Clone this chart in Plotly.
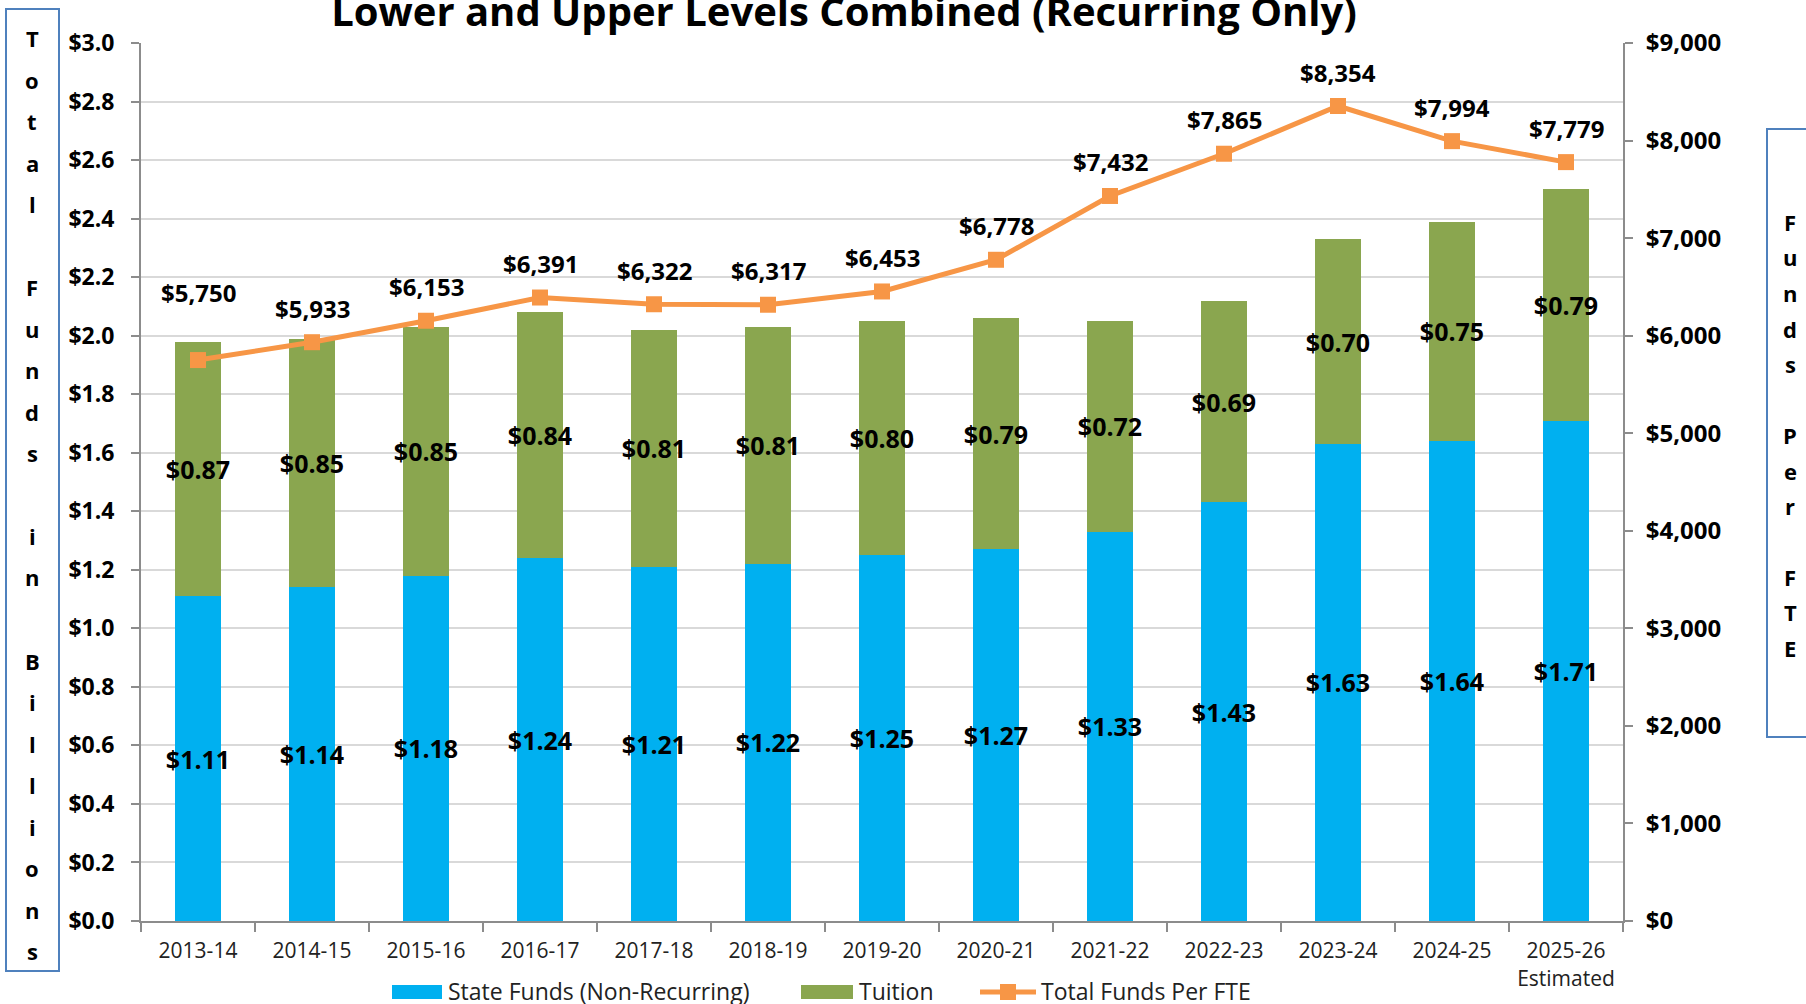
import plotly.graph_objects as go

# ---------------- data ----------------
years = ["2013-14", "2014-15", "2015-16", "2016-17", "2017-18", "2018-19", "2019-20",
         "2020-21", "2021-22", "2022-23", "2023-24", "2024-25", "2025-26<br>Estimated"]
state_funds = [1.11, 1.14, 1.18, 1.24, 1.21, 1.22, 1.25, 1.27, 1.33, 1.43, 1.63, 1.64, 1.71]
tuition = [0.87, 0.85, 0.85, 0.84, 0.81, 0.81, 0.80, 0.79, 0.72, 0.69, 0.70, 0.75, 0.79]
funds_per_fte = [5750, 5933, 6153, 6391, 6322, 6317, 6453, 6778, 7432, 7865, 8354, 7994, 7779]

series_names = ["State Funds (Non-Recurring)", "Tuition", "Total Funds Per FTE"]
title_text = "Lower and Upper Levels Combined (Recurring Only)"
left_title = "Total Funds in Billions"
right_title = "Funds Per FTE"

# ---------------- layout geometry (pixels) ----------------
W, H = 1806, 1004
L, R, T, B = 141, 1623, 43, 921

def px_x(p):
    return (p - L) / (R - L)

def px_y(p):
    return (B - p) / (B - T)

FONT = "Open Sans"
BLUE = "#00B0F0"
GREEN = "#8AA64F"
ORANGE = "#F79646"
AXIS = "#8C8C8C"
GRID = "#D9D9D9"
BOX = "#4F81BD"

fig = go.Figure()

fig.add_trace(go.Bar(
    x=years, y=state_funds, name=series_names[0], showlegend=False,
    marker=dict(color=BLUE, line=dict(width=0)),
    texttemplate="$%{y:.2f}", textposition="inside", insidetextanchor="middle",
    textangle=0, constraintext="none",
    textfont=dict(family=FONT, size=25, color="black", weight="bold"),
))
fig.add_trace(go.Bar(
    x=years, y=tuition, name=series_names[1], showlegend=False,
    marker=dict(color=GREEN, line=dict(width=0)),
    texttemplate="$%{y:.2f}", textposition="inside", insidetextanchor="middle",
    textangle=0, constraintext="none",
    textfont=dict(family=FONT, size=25, color="black", weight="bold"),
))
fig.add_trace(go.Scatter(
    x=years, y=funds_per_fte, name=series_names[2], yaxis="y2", showlegend=False,
    mode="lines+markers",
    line=dict(color=ORANGE, width=5),
    marker=dict(symbol="square", size=16, color=ORANGE),
))

annotations = []
shapes = []

# line value labels
for i, (cat, v) in enumerate(zip(years, funds_per_fte)):
    annotations.append(dict(
        x=cat, y=v, xref="x", yref="y2", text=f"${v:,.0f}", showarrow=False,
        yshift=68 if i == 0 else 34,
        font=dict(family=FONT, size=24, color="black", weight="bold"),
    ))

# vertical stacked axis titles
def stacked(text, x_px, y0_px, step):
    lines = []
    for wi, word in enumerate(text.split(" ")):
        if wi > 0:
            lines.append("")
        lines.extend(list(word))
    for i, ch in enumerate(lines):
        if not ch:
            continue
        annotations.append(dict(
            x=px_x(x_px), y=px_y(y0_px + i * step), xref="paper", yref="paper",
            text=ch, showarrow=False, xanchor="center", yanchor="middle",
            font=dict(family=FONT, size=22, color="black", weight="bold"),
        ))

stacked(left_title, 32, 38, 41.5)
stacked(right_title, 1790, 222, 35.5)

shapes += [
    dict(type="rect", xref="paper", yref="paper",
         x0=px_x(6), x1=px_x(59), y0=px_y(9), y1=px_y(971),
         line=dict(color=BOX, width=2), fillcolor="rgba(0,0,0,0)"),
    dict(type="rect", xref="paper", yref="paper",
         x0=px_x(1767), x1=px_x(1840), y0=px_y(129), y1=px_y(737),
         line=dict(color=BOX, width=2), fillcolor="rgba(0,0,0,0)"),
]

# custom legend (Excel-style wide swatches)
LEG_Y = 992
leg_font = dict(family=FONT, size=23, color="#222")
shapes.append(dict(type="rect", xref="paper", yref="paper",
                   x0=px_x(392), x1=px_x(442), y0=px_y(LEG_Y + 7), y1=px_y(LEG_Y - 7),
                   fillcolor=BLUE, line=dict(width=0)))
annotations.append(dict(x=px_x(446), y=px_y(LEG_Y - 1), xref="paper", yref="paper",
                        text=series_names[0], showarrow=False, xanchor="left",
                        yanchor="middle", font=leg_font))
shapes.append(dict(type="rect", xref="paper", yref="paper",
                   x0=px_x(801), x1=px_x(853), y0=px_y(LEG_Y + 7), y1=px_y(LEG_Y - 7),
                   fillcolor=GREEN, line=dict(width=0)))
annotations.append(dict(x=px_x(857), y=px_y(LEG_Y - 1), xref="paper", yref="paper",
                        text=series_names[1], showarrow=False, xanchor="left",
                        yanchor="middle", font=leg_font))
shapes.append(dict(type="line", xref="paper", yref="paper",
                   x0=px_x(980), x1=px_x(1036), y0=px_y(LEG_Y), y1=px_y(LEG_Y),
                   line=dict(color=ORANGE, width=5)))
shapes.append(dict(type="rect", xref="paper", yref="paper",
                   x0=px_x(1000), x1=px_x(1016), y0=px_y(LEG_Y + 8), y1=px_y(LEG_Y - 8),
                   fillcolor=ORANGE, line=dict(width=0)))
annotations.append(dict(x=px_x(1039), y=px_y(LEG_Y - 1), xref="paper", yref="paper",
                        text=series_names[2], showarrow=False, xanchor="left",
                        yanchor="middle", font=leg_font))

fig.update_layout(
    template="none",
    width=W, height=H, autosize=False,
    margin=dict(l=L, r=W - R, t=T, b=H - B, pad=0),
    paper_bgcolor="white", plot_bgcolor="white",
    barmode="stack", bargap=0.6, showlegend=False,
    title=dict(text=f"<b>{title_text}</b>", x=844 / W, xref="container",
               xanchor="center", y=1 - 11.5 / H, yref="container", yanchor="middle",
               font=dict(family=FONT, size=40, color="black")),
    font=dict(family=FONT, color="black"),
    xaxis=dict(
        type="category", range=[-0.5, len(years) - 0.5],
        showgrid=False, showline=True, linecolor=AXIS, linewidth=2,
        ticks="outside", tickson="boundaries", ticklen=9, tickcolor=AXIS, tickwidth=2,
        tickfont=dict(family=FONT, size=21, color="#222"), ticklabelstandoff=10,
        automargin=False,
    ),
    yaxis=dict(
        range=[0, 3.0], dtick=0.2, tickprefix="$", tickformat=".1f",
        showgrid=True, gridcolor=GRID, gridwidth=2,
        showline=True, linecolor=AXIS, linewidth=2,
        ticks="outside", ticklen=8, tickcolor=AXIS, tickwidth=2,
        tickfont=dict(family=FONT, size=23, color="black", weight="bold"),
        ticklabelstandoff=12, zeroline=False, automargin=False,
    ),
    yaxis2=dict(
        range=[0, 9000], dtick=1000, tickprefix="$", tickformat=",.0f",
        overlaying="y", side="right", showgrid=False,
        showline=True, linecolor=AXIS, linewidth=2,
        ticks="outside", ticklen=8, tickcolor=AXIS, tickwidth=2,
        tickfont=dict(family=FONT, size=24, color="black", weight="bold"),
        ticklabelstandoff=8, zeroline=False, automargin=False,
    ),
    annotations=annotations,
    shapes=shapes,
)

# remove the default 8px body margin so the figure sits at the page origin
fig.write_html("out.html", config={"displayModeBar": False},
               post_script="document.body.style.margin='0px';")
